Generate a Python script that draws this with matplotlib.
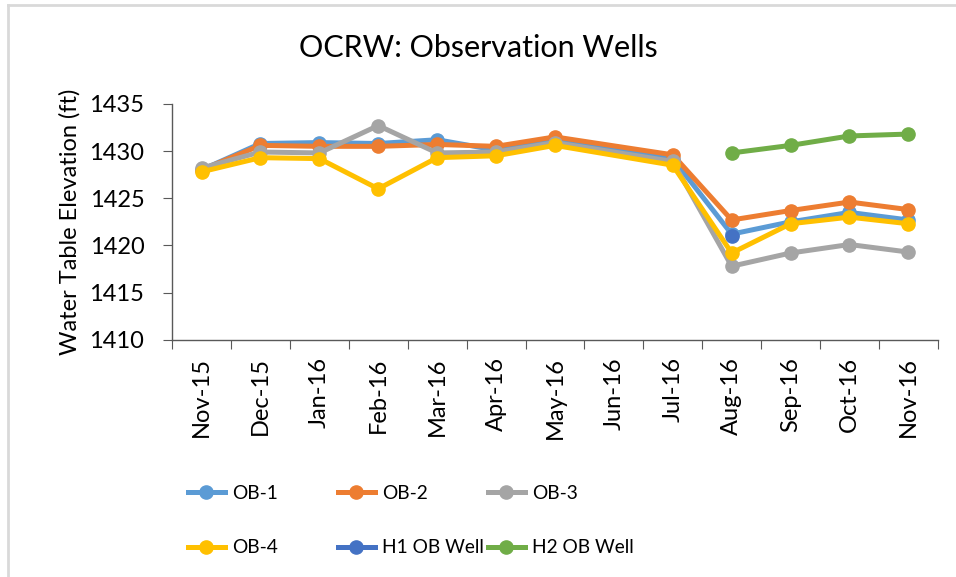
import numpy as np
import matplotlib
matplotlib.use("Agg")
import matplotlib.pyplot as plt
from matplotlib.lines import Line2D

plt.rcParams['font.family'] = ['Lato', 'DejaVu Sans']

# 月份类别
months = ['Nov-15', 'Dec-15', 'Jan-16', 'Feb-16', 'Mar-16', 'Apr-16', 'May-16',
          'Jun-16', 'Jul-16', 'Aug-16', 'Sep-16', 'Oct-16', 'Nov-16']

nan = np.nan
ob1 = [1428.0, 1430.8, 1430.9, 1430.8, 1431.2, 1430.1, 1431.1, nan, 1429.2, 1421.2, 1422.5, 1423.5, 1422.7]
ob2 = [1428.0, 1430.6, 1430.5, 1430.5, 1430.7, 1430.5, 1431.5, nan, 1429.6, 1422.7, 1423.7, 1424.6, 1423.8]
ob3 = [1428.2, 1429.9, 1429.8, 1432.7, 1429.8, 1429.9, 1430.9, nan, 1428.9, 1417.8, 1419.2, 1420.1, 1419.3]
ob4 = [1427.8, 1429.3, 1429.2, 1426.0, 1429.3, 1429.5, 1430.6, nan, 1428.5, 1419.2, 1422.3, 1423.0, 1422.3]
h1 = [nan, nan, nan, nan, nan, nan, nan, nan, nan, 1421.0, nan, nan, nan]
h2 = [nan, nan, nan, nan, nan, nan, nan, nan, nan, 1429.8, 1430.6, 1431.6, 1431.8]

series = [
    ('OB-1', ob1, '#5B9BD5'),
    ('OB-2', ob2, '#ED7D31'),
    ('OB-3', ob3, '#A5A5A5'),
    ('OB-4', ob4, '#FFC000'),
    ('H1 OB Well', h1, '#4472C4'),
    ('H2 OB Well', h2, '#70AD47'),
]

fig = plt.figure(figsize=(9.56, 5.77), dpi=100)
ax = fig.add_axes([0.180, 0.411, 0.801, 0.409])

x = np.arange(len(months))
colors = {}
for name, vals, color in series:
    v = np.array(vals, dtype=float)
    ok = ~np.isnan(v)
    ax.plot(x[ok], v[ok], color=color, lw=3.6, marker='o', markersize=9.5,
            solid_capstyle='round', solid_joinstyle='round', label=name)
    colors[name] = color

ax.set_xlim(-0.5, len(months) - 0.5)
ax.set_ylim(1410, 1435)
ax.set_yticks(np.arange(1410, 1436, 5))
ax.set_xticks(np.arange(-0.5, len(months), 1.0))
ax.set_xticklabels([])
ax.set_xticks(x, minor=True)
ax.set_xticklabels(months, minor=True, rotation=90)
ax.tick_params(axis='x', which='major', length=6.5, color='#595959', direction='out')
ax.tick_params(axis='x', which='minor', length=0, pad=12.5, labelsize=17)
ax.tick_params(axis='y', length=6.5, color='#595959', pad=13.5, labelsize=17)

for s in ['top', 'right']:
    ax.spines[s].set_visible(False)
for s in ['left', 'bottom']:
    ax.spines[s].set_color('#595959')
    ax.spines[s].set_linewidth(1.0)

ax.set_ylabel('Water Table Elevation (ft)', fontsize=17, labelpad=6)
fig.text(0.50, 0.917, 'OCRW: Observation Wells', fontsize=22, ha='center', va='center')

# 图例：三列，每列两行
cols = [('OB-1', 'OB-4'), ('OB-2', 'H1 OB Well'), ('OB-3', 'H2 OB Well')]
col_x = [188, 338, 488]
for names, cx in zip(cols, col_x):
    hs = [Line2D([], [], color=colors[n], lw=3.6, marker='o', markersize=9.5)
          for n in names]
    fig.legend(hs, names, loc='upper left', bbox_to_anchor=(cx / 956, 1 - 485 / 577),
               frameon=False, fontsize=13.8,
               handlelength=1.93, handletextpad=0.36,
               labelspacing=1.95, borderpad=0, borderaxespad=0)

# 外框
fig.add_artist(Line2D([8 / 956, 8 / 956], [0, 1 - 5 / 577], color='#d9d9d9', lw=2,
                      transform=fig.transFigure))
fig.add_artist(Line2D([8 / 956, 1], [1 - 5 / 577, 1 - 5 / 577], color='#d9d9d9', lw=2,
                      transform=fig.transFigure))

fig.savefig('out.png', dpi=100)
